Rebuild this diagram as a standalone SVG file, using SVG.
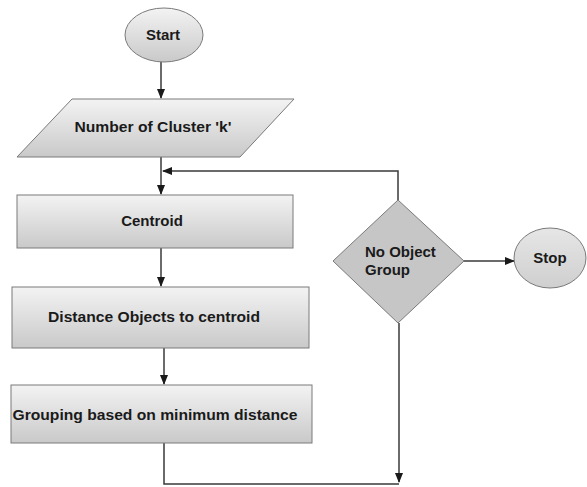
<svg xmlns="http://www.w3.org/2000/svg" width="587" height="487" viewBox="0 0 587 487">
<style>
.shape{stroke:#7a7a7a;stroke-width:1}
.lbl{font-family:"Liberation Sans",Arial,sans-serif;font-weight:bold;font-size:15px;fill:#1a1a1a}
.c{text-anchor:middle}
.conn{fill:none;stroke:#3a3a3a;stroke-width:1.5}
</style>
<defs>
<linearGradient id="g" x1="0" y1="0" x2="0" y2="1">
<stop offset="0" stop-color="#f3f3f3"/>
<stop offset="1" stop-color="#c9c9c9"/>
</linearGradient>
<linearGradient id="g2" x1="0" y1="0" x2="0" y2="1">
<stop offset="0" stop-color="#e6e6e6"/>
<stop offset="1" stop-color="#cfcfcf"/>
</linearGradient>
<marker id="ah" markerWidth="10" markerHeight="10" refX="9" refY="5" orient="auto" markerUnits="userSpaceOnUse">
<path d="M0,1 L10,5 L0,9 z" fill="#1a1a1a"/>
</marker>
</defs>
<g id="connectors">
<line class="conn" x1="161" y1="62" x2="161" y2="98" marker-end="url(#ah)"/>
<line class="conn" x1="161" y1="157" x2="161" y2="194" marker-end="url(#ah)"/>
<polyline class="conn" points="398,200 398,171 163,171" marker-end="url(#ah)"/>
<line class="conn" x1="161" y1="248" x2="161" y2="286" marker-end="url(#ah)"/>
<line class="conn" x1="164" y1="348" x2="164" y2="384" marker-end="url(#ah)"/>
<polyline class="conn" points="164,443 164,484 399,484"/>
<line class="conn" x1="399" y1="323" x2="399" y2="482" marker-end="url(#ah)"/>
<line class="conn" x1="464" y1="261" x2="514" y2="261" marker-end="url(#ah)"/>
</g>
<g id="start">
<ellipse class="shape" cx="164" cy="35" rx="39" ry="27" fill="url(#g)"/>
<text class="lbl c" x="163" y="40">Start</text>
</g>
<g id="clusters">
<polygon class="shape" points="72,99 294,99 240,157 17,157" fill="url(#g)"/>
<text class="lbl c" x="153" y="132" textLength="157" lengthAdjust="spacingAndGlyphs">Number of Cluster 'k'</text>
</g>
<g id="centroid">
<rect class="shape" x="17" y="195" width="276" height="53" fill="url(#g)"/>
<text class="lbl c" x="152" y="226">Centroid</text>
</g>
<g id="distance">
<rect class="shape" x="12" y="287" width="297" height="61" fill="url(#g)"/>
<text class="lbl c" x="154" y="322" textLength="212" lengthAdjust="spacingAndGlyphs">Distance Objects to centroid</text>
</g>
<g id="grouping">
<rect class="shape" x="11" y="385" width="301" height="58" fill="url(#g)"/>
<text class="lbl c" x="155" y="420" textLength="285" lengthAdjust="spacingAndGlyphs">Grouping based on minimum distance</text>
</g>
<g id="decision">
<polygon class="shape" points="398,200 464,261 398,323 333,261" fill="#c6c6c6"/>
<text class="lbl" x="365" y="257">No Object</text>
<text class="lbl" x="365" y="275">Group</text>
</g>
<g id="stop">
<ellipse class="shape" cx="550" cy="258" rx="36" ry="30" fill="url(#g2)"/>
<text class="lbl c" x="550" y="263">Stop</text>
</g>
</svg>
